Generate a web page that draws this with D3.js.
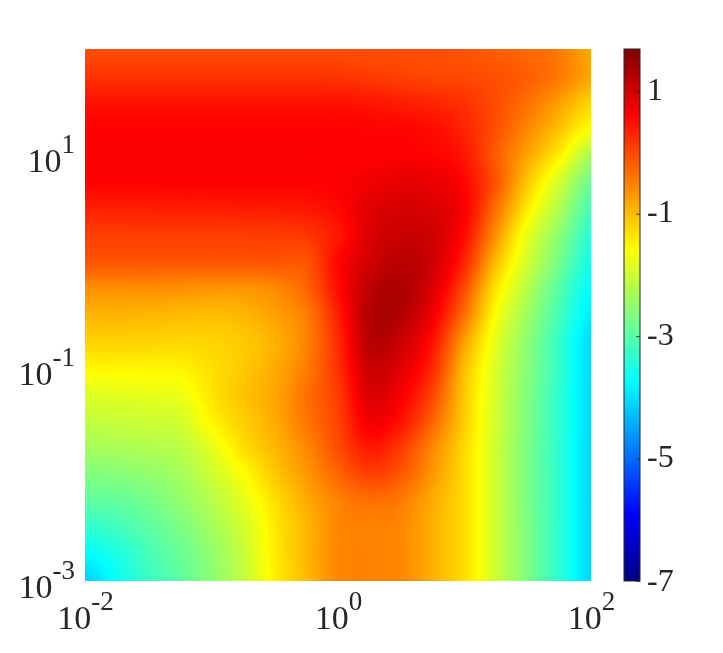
<!DOCTYPE html>
<html><head><meta charset="utf-8">
<script src="https://cdn.jsdelivr.net/npm/d3@7"></script>
<style>
html,body{margin:0;padding:0;background:#fff;}
#wrap{position:relative;width:723px;height:653px;overflow:hidden;}
canvas,svg{position:absolute;left:0;top:0;}
text{font-family:"Liberation Serif",serif;fill:#262626;}
</style></head><body><div id="wrap"></div>
<script>
// log10 positions of grid columns and rows
const logXNodes = [-2,-1.75,-1.5,-1.25,-1,-0.75,-0.5,-0.25,0,0.25,0.5,0.75,1,1.25,1.5,1.75,2];
const logYNodes = [2,1.75,1.5,1.25,1,0.75,0.5,0.25,0,-0.25,-0.5,-0.75,-1,-1.25,-1.5,-1.75,-2,-2.25,-2.5,-2.75,-3];
// values, one row per logYNodes entry
const heatValues = [
[-.05,-.05,-.05,-.05,-.05,-.05,-.05,-.05,-.05,-.05,-.05,-.05,-.1,-.2,-.3,-.45,-.85],
[.17,.17,.17,.17,.17,.17,.17,.17,.15,.1,.05,0,-.02,-.08,-.2,-.42,-.8],
[.45,.45,.45,.45,.45,.45,.45,.45,.45,.42,.35,.28,.18,-.05,-.35,-.75,-1.2],
[.6,.6,.6,.6,.6,.6,.6,.6,.6,.58,.57,.5,.3,-.08,-.55,-1.05,-1.6],
[.62,.62,.62,.62,.62,.62,.62,.62,.6,.6,.62,.58,.42,-.18,-.8,-1.45,-2.3],
[.6,.6,.6,.6,.6,.6,.6,.6,.62,.7,.8,.78,.55,-.12,-1.1,-1.95,-2.8],
[.34,.34,.35,.36,.36,.38,.38,.42,.55,.85,.95,.9,.62,-.35,-1.42,-2.25,-3.1],
[.08,.08,.08,.08,.08,.08,.1,.15,.42,.9,1.05,1,.5,-.65,-1.77,-2.55,-3.35],
[-.12,-.12,-.12,-.12,-.12,-.12,-.1,-.1,.55,1,1.2,1,.3,-1,-1.97,-2.75,-3.55],
[-.6,-.6,-.6,-.62,-.65,-.65,-.55,-.25,.5,1.15,1.28,.9,-.05,-1.35,-2.2,-3,-3.73],
[-.92,-.92,-.95,-.98,-1,-.95,-.75,-.45,.35,1.25,1.25,.7,-.35,-1.6,-2.4,-3.15,-3.9],
[-1.18,-1.18,-1.2,-1.22,-1.2,-1.1,-.9,-.5,.25,1.2,1.05,.45,-.75,-1.8,-2.55,-3.3,-4.05],
[-1.5,-1.5,-1.5,-1.48,-1.3,-1.1,-.85,-.45,.2,1.05,.85,.25,-1,-1.9,-2.6,-3.3,-4.05],
[-1.85,-1.82,-1.78,-1.72,-1.35,-1.05,-.8,-.35,.1,.9,.65,0,-1.1,-1.95,-2.65,-3.35,-4.05],
[-2.1,-2.05,-2,-1.95,-1.5,-1.15,-.85,-.4,.05,.7,.45,-.25,-1.15,-1.97,-2.67,-3.35,-4.05],
[-2.35,-2.3,-2.25,-2.15,-1.8,-1.3,-.95,-.55,-.05,.4,.1,-.55,-1.25,-2,-2.7,-3.37,-4.07],
[-2.65,-2.6,-2.5,-2.35,-2,-1.6,-1.1,-.7,-.25,.05,-.15,-.7,-1.28,-2,-2.7,-3.37,-4.07],
[-2.95,-2.9,-2.75,-2.5,-2.2,-1.8,-1.3,-.85,-.5,-.35,-.45,-.85,-1.3,-2,-2.7,-3.37,-4.08],
[-3.35,-3.2,-2.95,-2.7,-2.35,-1.95,-1.4,-.95,-.55,-.5,-.55,-.9,-1.3,-2,-2.68,-3.37,-4.08],
[-3.75,-3.5,-3.15,-2.85,-2.5,-2.05,-1.42,-.95,-.55,-.5,-.55,-.9,-1.3,-2,-2.68,-3.37,-4.08],
[-4.15,-3.65,-3.25,-2.95,-2.55,-2.1,-1.45,-.98,-.55,-.5,-.55,-.9,-1.3,-2,-2.68,-3.37,-4.08]
];
const xTickValues = [0.01,1,100];
const yTickValues = [0.1,0.001,10];
const colorTickValues = [1,-1,-3,-5,-7];
const colorMin = -7, colorMax = 1.69;
const jetFractions = [0,.125,.375,.625,.875,1];
const jetColors = ["#000080","#0000ff","#00ffff","#ffff00","#ff0000","#800000"];

const W=723,H=653;
const plot={l:85,r:591,t:49,b:581}, bar={l:624,r:640};
const x=d3.scaleLog().domain([0.01,100]).range([plot.l,plot.r]);
const y=d3.scaleLog().domain([0.001,100]).range([plot.b,plot.t]);
const colorValue=d3.scaleLinear().domain([colorMin,colorMax]).range([0,1]);
const jet=d3.scaleLinear().domain(jetFractions).range(jetColors).interpolate(d3.interpolateRgb).clamp(true);
const colorY=d3.scaleLinear().domain([colorMin,colorMax]).range([plot.b,plot.t]);

const wrap=d3.select("#wrap");
const canvas=wrap.append("canvas").attr("width",W).attr("height",H);
const ctx=canvas.node().getContext("2d");

const colIndex=d3.scaleLinear().domain(logXNodes).range(logXNodes.map((_,i)=>i)).clamp(true);
const rowIndex=d3.scaleLinear().domain(logYNodes).range(logYNodes.map((_,i)=>i)).clamp(true);
function cr(a,b,c,d,t){return b+.5*t*(c-a+t*(2*a-5*b+4*c-d+t*(3*(b-c)+d-a)));}
function sample(cx,ry){
  const nc=logXNodes.length,nr=logYNodes.length;
  const c0=Math.min(Math.floor(cx),nc-2), r0=Math.min(Math.floor(ry),nr-2);
  const tc=cx-c0,tr=ry-r0;
  const R=i=>heatValues[Math.max(0,Math.min(nr-1,i))];
  const rowAt=row=>cr(row[Math.max(0,c0-1)],row[c0],row[c0+1],row[Math.min(nc-1,c0+2)],tc);
  return cr(rowAt(R(r0-1)),rowAt(R(r0)),rowAt(R(r0+1)),rowAt(R(r0+2)),tr);
}
const lut=d3.range(1024).map(i=>d3.rgb(jet(i/1023)));
const img=ctx.createImageData(plot.r-plot.l,plot.b-plot.t);
for(let j=0;j<img.height;j++){
  const ly=Math.log10(y.invert(plot.t+j+.5)), ry=rowIndex(ly);
  for(let i=0;i<img.width;i++){
    const lx=Math.log10(x.invert(plot.l+i+.5)), cx=colIndex(lx);
    const f=Math.max(0,Math.min(1,colorValue(sample(cx,ry))));
    const c=lut[Math.round(f*1023)], k=(j*img.width+i)*4;
    img.data[k]=c.r;img.data[k+1]=c.g;img.data[k+2]=c.b;img.data[k+3]=255;
  }
}
ctx.putImageData(img,plot.l,plot.t);
for(let py=plot.t;py<plot.b;py++){
  ctx.fillStyle=jet(colorValue(colorY.invert(py+.5)));
  ctx.fillRect(bar.l,py,bar.r-bar.l,1);
}

const svg=wrap.append("svg").attr("width",W).attr("height",H);
const bigSize=34, supSize=27;
function powerLabel(sel,v){
  const e=Math.round(Math.log10(v));
  sel.text(null).style("font-size",bigSize+"px");
  sel.append("tspan").text("10");
  sel.append("tspan").attr("dy",-19).style("font-size",supSize+"px").text(e);
}
const xAxis=svg.append("g").attr("transform",`translate(0,${plot.b})`)
  .call(d3.axisBottom(x).tickValues(xTickValues).tickSize(0).tickFormat(""));
xAxis.select(".domain").remove();
xAxis.selectAll(".tick text").attr("y",48).attr("dy",null).attr("text-anchor","middle")
  .each(function(d){powerLabel(d3.select(this),d);});
const yAxis=svg.append("g").attr("transform",`translate(${plot.l},0)`)
  .call(d3.axisLeft(y).tickValues(yTickValues).tickSize(0).tickFormat(""));
yAxis.select(".domain").remove();
yAxis.selectAll(".tick text").attr("x",-10).attr("y",16.5).attr("dy",null).attr("text-anchor","end")
  .each(function(d){powerLabel(d3.select(this),d);});

const cAxis=svg.append("g").attr("transform",`translate(${bar.r},0)`)
  .call(d3.axisRight(colorY).tickValues(colorTickValues).tickSize(-4).tickFormat(d=>String(d)));
cAxis.select(".domain").remove();
cAxis.selectAll(".tick line").attr("stroke","#262626").attr("stroke-width",0.8);
cAxis.selectAll(".tick text").attr("x",7).attr("dy",null).attr("y",d=>d===-7?9:8)
  .attr("text-anchor","start").style("font-size","32px");
svg.append("rect").attr("x",bar.l).attr("y",plot.t).attr("width",bar.r-bar.l).attr("height",plot.b-plot.t)
  .attr("fill","none").attr("stroke","#262626").attr("stroke-width",1);
</script></body></html>
